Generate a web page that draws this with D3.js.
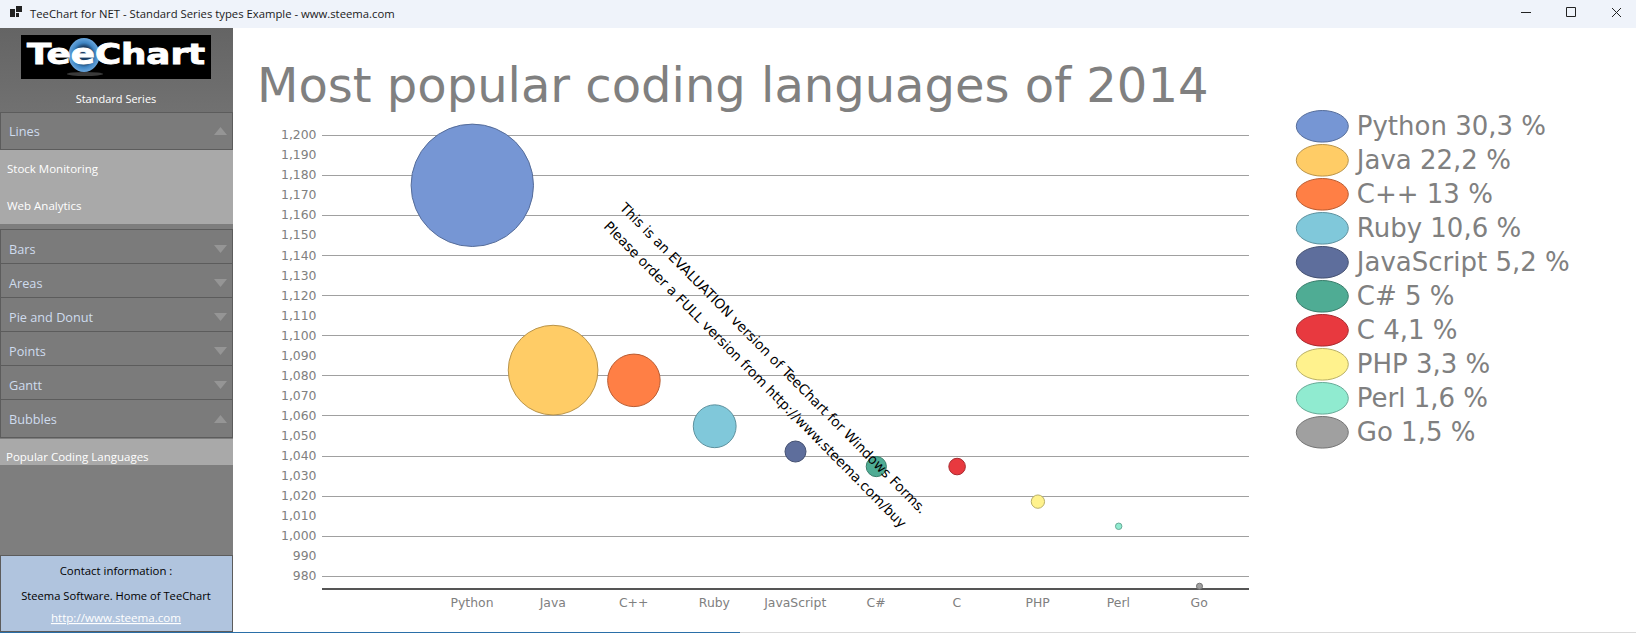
<!DOCTYPE html>
<html>
<head>
<meta charset="utf-8">
<title>TeeChart for NET - Standard Series types Example</title>
<script src="https://cdn.jsdelivr.net/npm/d3@7"></script>
<style>
  html, body { margin: 0; padding: 0; background: #fff; overflow: hidden; }
  svg { display: block; }
  .menu text { font-family: "Open Sans", "Noto Sans", sans-serif; }
  .axis text, .title, .legend text { font-family: "DejaVu Sans", Verdana, sans-serif; fill: #808080; }
  .axis path, .axis line { shape-rendering: crispEdges; }
</style>
</head>
<body>
<svg id="chart" width="1636" height="633"></svg>
<script>
const languages = ['Python', 'Java', 'C++', 'Ruby', 'JavaScript', 'C#', 'C', 'PHP', 'Perl', 'Go']
const popularity = [1174.8, 1082.6, 1077.5, 1054.6, 1042, 1034.5, 1034.5, 1017, 1004.7, 974.8]
const shares = [30.3, 22.2, 13, 10.6, 5.2, 5, 4.1, 3.3, 1.6, 1.5]
const shareLabels = ['30,3', '22,2', '13', '10,6', '5,2', '5', '4,1', '3,3', '1,6', '1,5']
const colors = ['#7696d4', '#ffcc66', '#ff7f45', '#80c8da', '#5e6e9c', '#4fac94', '#e8393f', '#fff28d', '#90ebd0', '#a0a0a0']
const yTicks = d3.range(980, 1201, 10)
const gridTicks = d3.range(980, 1201, 20)
const collapsedTop = ['Bars', 'Areas', 'Pie and Donut', 'Points', 'Gantt']
const evalLines = [
  'This is an EVALUATION version of TeeChart for Windows Forms.',
  'Please order a FULL version from http://www.steema.com/buy'
]

const svg = d3.select('#chart')

// window title bar
const chrome = svg.append('g')
chrome.append('rect').attr('width', 1636).attr('height', 28).attr('fill', '#eff3fa')
chrome.append('path').attr('d', 'M10 9h5v8h-5z M16 6h6v6h-6z M16 13h3v4h-3z').attr('fill', '#222')
chrome.append('text').attr('x', 30).attr('y', 17.5)
  .attr('font-family', '"Open Sans", sans-serif').attr('font-size', 11.3).attr('fill', '#1a1a1a')
  .text('TeeChart for NET - Standard Series types Example - www.steema.com')
chrome.append('path').attr('fill', 'none').attr('stroke', '#222')
  .attr('d', 'M1521 12.5h10 M1566.5 7.5h9v9h-9z M1612 8l9 9 M1621 8l-9 9')

// bottom edge of the window
svg.append('rect').attr('y', 632).attr('width', 1636).attr('height', 1).attr('fill', '#d9d9d9')
svg.append('rect').attr('y', 632).attr('width', 740).attr('height', 1).attr('fill', '#2a6fa8')

// left menu
const menu = svg.append('g').attr('class', 'menu')
const gradId = 'sideGrad'
const defs = svg.append('defs')
const grad = defs.append('linearGradient').attr('id', gradId).attr('x2', 0).attr('y2', 1)
grad.append('stop').attr('offset', 0).attr('stop-color', '#646464')
grad.append('stop').attr('offset', 1).attr('stop-color', '#717171')
menu.append('rect').attr('y', 28).attr('width', 233).attr('height', 84).attr('fill', `url(#${gradId})`)
menu.append('rect').attr('y', 112).attr('width', 233).attr('height', 443).attr('fill', '#7e7e7e')

// logo
const logo = menu.append('g')
logo.append('rect').attr('x', 21).attr('y', 35).attr('width', 190).attr('height', 44).attr('fill', '#000')
const blue = defs.append('radialGradient').attr('id', 'logoBlue')
blue.append('stop').attr('offset', 0.5).attr('stop-color', '#1c3f66')
blue.append('stop').attr('offset', 0.72).attr('stop-color', '#3f86c4')
blue.append('stop').attr('offset', 1).attr('stop-color', '#6aa6dc')
logo.append('ellipse').attr('cx', 84).attr('cy', 55).attr('rx', 15.5).attr('ry', 17).attr('fill', 'url(#logoBlue)')
logo.append('ellipse').attr('cx', 85).attr('cy', 74).attr('rx', 18).attr('ry', 2).attr('fill', '#3a3a3a')
logo.append('text').attr('x', 27).attr('y', 64).attr('textLength', 178).attr('lengthAdjust', 'spacingAndGlyphs')
  .attr('font-weight', 700).attr('font-size', 28).attr('fill', '#fff')
  .attr('stroke', '#fff').attr('stroke-width', 0.9)
  .style('font-family', '"DejaVu Sans"').text('TeeChart')

menu.append('text').attr('x', 116).attr('y', 103).attr('text-anchor', 'middle')
  .attr('font-size', 11).attr('fill', '#fff').text('Standard Series')

const header = (name, top, h, open, shift) => {
  menu.append('rect').attr('x', 0.5).attr('y', top + 0.5).attr('width', 232).attr('height', h)
    .attr('fill', '#7b7b7b').attr('stroke', '#5c5c5c')
  const cy = top + h / 2 + shift
  menu.append('text').attr('x', 9).attr('y', cy + 5).attr('font-size', 12.7).attr('fill', '#cfdcee').text(name)
  menu.append('path')
    .attr('d', open ? `M214 ${cy + 4}l6.5 -8l6.5 8z` : `M214 ${cy - 4}l6.5 8l6.5 -8z`)
    .attr('fill', '#959595')
}
const subItem = (name, x, y) => menu.append('text').attr('x', x).attr('y', y)
  .attr('font-size', 11.5).attr('fill', '#fff').text(name)

header('Lines', 112, 37, true, 0.5)
menu.append('rect').attr('y', 150).attr('width', 233).attr('height', 74).attr('fill', '#a9a9a9')
subItem('Stock Monitoring', 7, 173)
subItem('Web Analytics', 7, 210)
collapsedTop.forEach((name, i) => header(name, 229 + i * 34, 34, false, 3))
header('Bubbles', 399, 38, true, 1)
menu.append('rect').attr('y', 439).attr('width', 233).attr('height', 26).attr('fill', '#a9a9a9')
subItem('Popular Coding Languages', 6, 461)

menu.append('rect').attr('x', 0.5).attr('y', 555.5).attr('width', 232).attr('height', 76)
  .attr('fill', '#b0c4de').attr('stroke', '#5c5c5c')
const contact = (s, y, size, link) => menu.append('text').attr('x', 116).attr('y', y).attr('text-anchor', 'middle')
  .attr('font-size', size).attr('fill', link ? '#fff' : '#000')
  .attr('text-decoration', link ? 'underline' : null).text(s)
contact('Contact information :', 575, 11.4)
contact('Steema Software. Home of TeeChart', 600, 11.2)
contact('http://www.steema.com', 622, 11.6, true)

// chart
svg.append('text').attr('class', 'title').attr('x', 257).attr('y', 101.5)
  .attr('font-size', 48).text('Most popular coding languages of 2014')

const y = d3.scaleLinear().domain([980, 1200]).range([575.8, 134.8])
const x = d3.scalePoint().domain(languages).range([472.3, 1199.5])
const r = d3.scaleLinear().domain([0, 30.3]).range([0, 61.2])

const grid = d3.axisLeft(y).tickValues(gridTicks).tickSize(-927.5).tickFormat('')
svg.append('g').attr('class', 'axis').attr('transform', 'translate(321.5,0)').call(grid)
  .call(g => g.select('.domain').remove())
  .call(g => g.selectAll('line').attr('stroke', '#a0a0a0'))

const yAxis = d3.axisLeft(y).tickValues(yTicks).tickSize(0).tickPadding(5).tickFormat(d3.format(','))
svg.append('g').attr('class', 'axis').attr('transform', 'translate(321.5,0)').call(yAxis)
  .call(g => g.select('.domain').remove())
  .call(g => g.selectAll('text').attr('font-size', 12.4))

const xAxis = d3.axisBottom(x).tickSize(0).tickPadding(9)
svg.append('g').attr('class', 'axis').attr('transform', 'translate(-0.8,589)').call(xAxis)
  .call(g => g.select('.domain').remove())
  .call(g => g.selectAll('text').attr('font-size', 12.4))
svg.append('rect').attr('x', 322).attr('y', 588).attr('width', 927).attr('height', 2).attr('fill', '#555')

const strokeOf = c => d3.color(c).darker(0.9)

svg.append('g').selectAll('circle').data(languages).join('circle')
  .attr('cx', d => x(d))
  .attr('cy', (d, i) => y(popularity[i]))
  .attr('r', (d, i) => r(shares[i]))
  .attr('fill', (d, i) => colors[i])
  .attr('stroke', (d, i) => strokeOf(colors[i]))
  .attr('stroke-width', 1)

// evaluation watermark
const evalPos = [[619, 208.5], [603, 227]]
svg.append('g').selectAll('text').data(evalLines).join('text')
  .attr('transform', (d, i) => `translate(${evalPos[i][0]},${evalPos[i][1]}) rotate(45.4)`)
  .attr('font-family', '"DejaVu Sans"').attr('font-size', 13.7).attr('fill', '#000')
  .text(d => d)

// legend
const legend = svg.append('g').attr('class', 'legend')
const rows = legend.selectAll('g').data(languages).join('g')
  .attr('transform', (d, i) => `translate(1322.3,${126.3 + i * 34})`)
rows.append('ellipse').attr('rx', 26).attr('ry', 15.8)
  .attr('fill', (d, i) => colors[i]).attr('stroke', (d, i) => strokeOf(colors[i]))
rows.append('text').attr('x', 34.5).attr('y', 8.5).attr('font-size', 26)
  .text((d, i) => `${d} ${shareLabels[i]} %`)
</script>
</body>
</html>
